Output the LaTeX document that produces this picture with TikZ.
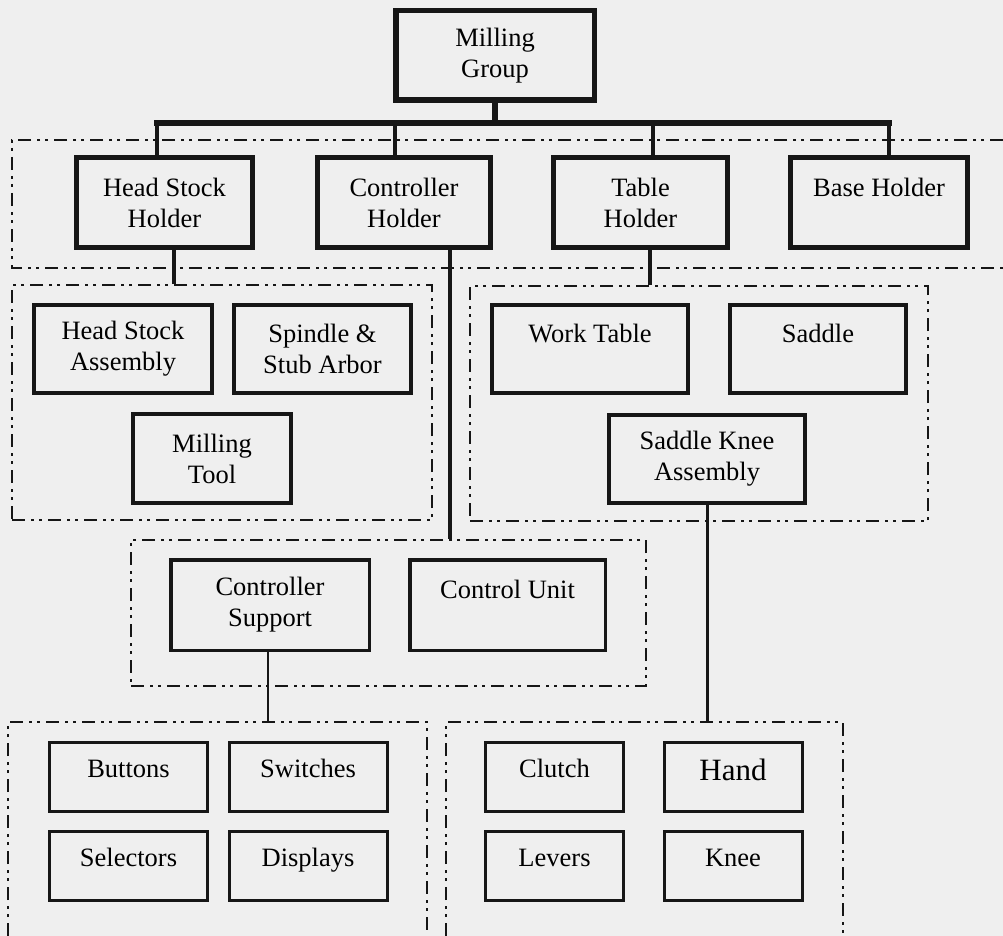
\documentclass[tikz,border=0pt]{standalone}
\usepackage{fontspec}
\setmainfont{Liberation Serif}
\definecolor{paper}{RGB}{239,239,239}
\definecolor{ink}{RGB}{22,22,22}
\tikzset{
  unitbox/.style={draw=ink, fill=paper, align=center, inner sep=0pt,
    font=\fontsize{26.5}{31}\selectfont},
  rootbox/.style={unitbox, line width=5.5pt},
  holderbox/.style={unitbox, line width=5pt, minimum height=90pt},
  partbox/.style={unitbox, line width=4pt, minimum height=88pt},
  subbox/.style={unitbox, line width=3.5pt, minimum height=90.5pt},
  leafbox/.style={unitbox, line width=3pt, minimum height=69pt,
    text height=18pt, text depth=18pt},
  grpline/.style={draw=ink, line width=2.6pt,
    dash pattern=on 13pt off 6pt on 3pt off 5pt on 3pt off 6pt},
  grpbox/.style={grpline, inner sep=0pt},
  trunkline/.style={draw=ink, line width=6.5pt, line cap=rect},
  linkline/.style={draw=ink, line width=4.5pt},
  thinline/.style={draw=ink, line width=3pt},
}
\begin{document}
\begin{tikzpicture}[x=1pt,y=-1pt]
  \fill[paper] (0,0) rectangle (1003,936);
  \useasboundingbox (0,0) rectangle (1003,936);

  % dash-dotted groupings
  \draw[grpline] (1003,140) -- (12,140) -- (12,268) -- (1003,268);
  \node[grpbox, minimum width=420pt, minimum height=235pt] (gL) at (222,402.5) {};
  \node[grpbox, minimum width=458pt, minimum height=235pt] (gR) at (699,403.5) {};
  \node[grpbox, minimum width=515pt, minimum height=146pt] (gC) at (388.5,613) {};
  \coordinate (blTL) at (8,722);
  \coordinate (blTR) at (427,722);
  \coordinate (brTL) at (446,722);
  \coordinate (brTR) at (843,722);
  \draw[grpline] (8,936) -- (blTL) -- (blTR) -- (427,936);
  \draw[grpline] (446,936) -- (brTL) -- (brTR) -- (843,936);

  % boxes
  \node[rootbox, minimum width=198.5pt, minimum height=89.5pt] (mg) at (495,55.5) {Milling\\Group};

  \node[holderbox, minimum width=176pt] (hsh) at (164.5,202.5) {Head Stock\\Holder};
  \node[holderbox, minimum width=173pt] (ch)  at (404,202.5)   {Controller\\Holder};
  \node[holderbox, minimum width=174pt] (th)  at (640.5,202.5) {Table\\Holder};
  \node[holderbox, minimum width=177pt] (bh)  at (879,202.5)   {Base Holder\\\mbox{}};

  \node[partbox, minimum width=178pt] (hsa) at (123,349)   {Head Stock\\Assembly};
  \node[partbox, minimum width=177pt] (ssa) at (322.5,349) {Spindle \&\\Stub Arbor};
  \node[partbox, minimum width=158pt, minimum height=89pt] (mt) at (212,458.5) {Milling\\Tool};
  \node[partbox, minimum width=196pt] (wt)  at (590,349)   {Work Table\\\mbox{}};
  \node[partbox, minimum width=176pt] (sd)  at (818,349)   {Saddle\\\mbox{}};
  \node[partbox, minimum width=196pt] (ska) at (707,459)   {Saddle Knee\\Assembly};

  \node[subbox, minimum width=198.5pt] (cs) at (270,605)   {Controller\\Support};
  \node[subbox, minimum width=195.5pt] (cu) at (507.5,605) {Control Unit\\\mbox{}};

  \node[leafbox, minimum width=158pt] (btn) at (128.5,777) {Buttons};
  \node[leafbox, minimum width=158pt] (swi) at (308,777)   {Switches};
  \node[leafbox, minimum width=158pt] (sel) at (128.5,866) {Selectors};
  \node[leafbox, minimum width=158pt] (dsp) at (308,866)   {Displays};
  \node[leafbox, minimum width=138pt] (clu) at (554.5,777) {Clutch};
  \node[leafbox, minimum width=138pt, font=\fontsize{31}{35}\selectfont,
        text height=22pt, text depth=16pt] (hnd) at (733,777) {Hand};
  \node[leafbox, minimum width=138pt] (lev) at (554.5,866) {Levers};
  \node[leafbox, minimum width=138pt] (kne) at (733,866)   {Knee};

  % connectors
  \coordinate (b1) at (157,123);
  \coordinate (b2) at (395,123);
  \coordinate (b3) at (653,123);
  \coordinate (b4) at (889,123);
  \draw[trunkline] (mg.south) -- (mg.south |- b1);
  \draw[trunkline] (b1) -- (b4);
  \draw[linkline] (b1) -- (b1 |- hsh.north);
  \draw[linkline] (b2) -- (b2 |- ch.north);
  \draw[linkline] (b3) -- (b3 |- th.north);
  \draw[linkline] (b4) -- (b4 |- bh.north);

  \coordinate (d1) at (174,0);
  \coordinate (d2) at (450,0);
  \coordinate (d3) at (650,0);
  \draw[linkline] (d1 |- hsh.south) -- (d1 |- gL.north);
  \draw[linkline] (d2 |- ch.south) -- (d2 |- gC.north);
  \draw[linkline] (d3 |- th.south) -- (d3 |- gR.north);

  \draw[thinline] (ska.south) -- (ska.south |- brTL);
  \draw[thinline, line width=2.5pt] ([xshift=-2pt]cs.south) -- ([xshift=-2pt]cs.south |- blTL);
\end{tikzpicture}
\end{document}
